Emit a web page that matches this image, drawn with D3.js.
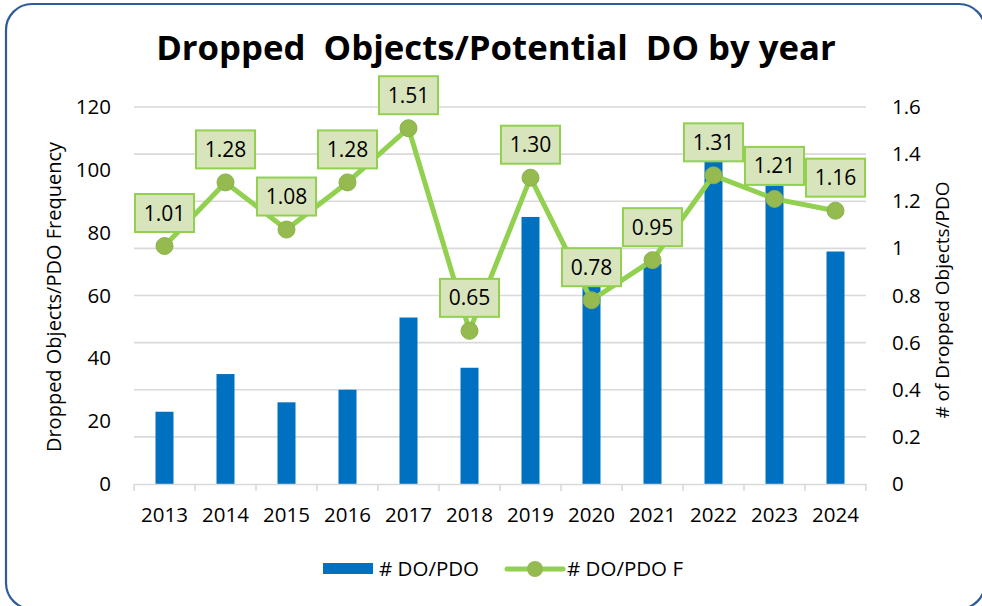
<!DOCTYPE html>
<html>
<head>
<meta charset="utf-8">
<script src="https://cdn.jsdelivr.net/npm/d3@7"></script>
<style>
  html, body { margin: 0; padding: 0; background: #fff; }
  svg { display: block; font-family: "Open Sans", sans-serif; }
</style>
</head>
<body>
<svg id="mysvg" width="982" height="606"></svg>
<script>
// chart data
const years = ["2013", "2014", "2015", "2016", "2017", "2018", "2019", "2020", "2021", "2022", "2023", "2024"];
const doCount = [23, 35, 26, 30, 53, 37, 85, 63, 70, 104, 95, 74];
const doRate = [1.01, 1.28, 1.08, 1.28, 1.51, 0.65, 1.30, 0.78, 0.95, 1.31, 1.21, 1.16];
const leftTicks = [0, 20, 40, 60, 80, 100, 120];
const rightTicks = [0, 0.2, 0.4, 0.6, 0.8, 1, 1.2, 1.4, 1.6];

const svg = d3.select("#mysvg");
const blue = "#0070C0", green = "#92D050", grid = "#D9D9D9";

// rounded card (runs a little past the right and bottom edges)
svg.append("rect")
  .attr("x", 6).attr("y", 4).attr("width", 979).attr("height", 605)
  .attr("rx", 26).attr("fill", "#fff")
  .attr("stroke", "#2E5C9A").attr("stroke-width", 2.2);

const plot = { left: 134, right: 866, top: 107, bottom: 484 };

const x = d3.scaleBand().domain(years).range([plot.left, plot.right]).padding(0);
const yL = d3.scaleLinear().domain([0, 120]).range([plot.bottom, plot.top]);
const yR = d3.scaleLinear().domain([0, 1.6]).range([plot.bottom, plot.top]);

// gridlines follow the right axis
svg.append("g").selectAll("line")
  .data(rightTicks.slice(1))
  .enter().append("line")
  .attr("x1", plot.left).attr("x2", plot.right)
  .attr("y1", d => yR(d)).attr("y2", d => yR(d))
  .attr("stroke", grid).attr("stroke-width", 1.6);

// title
const title = svg.append("text")
  .attr("x", 496).attr("y", 60)
  .attr("text-anchor", "middle")
  .style("font-weight", "bold").style("font-size", "35px")
  .attr("fill", "#000")
  .attr("xml:space", "preserve")
  .text("Dropped  Objects/Potential  DO by year");
// squeeze to the width it has in the picture
const tl = title.node().getComputedTextLength();
if (tl > 680) title.style("font-size", (35 * 680 / tl) + "px");

// bars
svg.append("g").selectAll("rect")
  .data(doCount)
  .enter().append("rect")
  .attr("x", (d, i) => x(years[i]) + x.bandwidth() / 2 - 9)
  .attr("width", 18)
  .attr("y", d => yL(d))
  .attr("height", d => yL(0) - yL(d))
  .attr("fill", blue);

// x axis
const xAxis = svg.append("g").attr("transform", `translate(0,${plot.bottom})`)
  .call(d3.axisBottom(x).tickSize(0).tickPadding(23));
xAxis.select(".domain").attr("stroke", grid).attr("stroke-width", 1.6);
xAxis.selectAll("text").style("font-size", "20.5px").attr("fill", "#000")
  .attr("font-family", "Open Sans");
// boundary ticks
svg.append("g").selectAll("line")
  .data(d3.range(years.length + 1))
  .enter().append("line")
  .attr("x1", i => plot.left + i * x.step()).attr("x2", i => plot.left + i * x.step())
  .attr("y1", plot.bottom).attr("y2", plot.bottom + 7)
  .attr("stroke", grid).attr("stroke-width", 1.6);

// left axis
const leftAxis = svg.append("g").attr("transform", `translate(${plot.left},0)`)
  .call(d3.axisLeft(yL).tickValues(leftTicks).tickSize(0).tickPadding(23));
leftAxis.select(".domain").remove();
leftAxis.selectAll("text").style("font-size", "20.5px").attr("fill", "#000")
  .attr("font-family", "Open Sans");

// right axis
const rightAxis = svg.append("g").attr("transform", `translate(${plot.right},0)`)
  .call(d3.axisRight(yR).tickValues(rightTicks).tickFormat(d3.format("~g")).tickSize(0).tickPadding(26));
rightAxis.select(".domain").remove();
rightAxis.selectAll("text").style("font-size", "20.5px").attr("fill", "#000")
  .attr("font-family", "Open Sans");

// axis titles
svg.append("text")
  .attr("transform", "translate(61,297) rotate(-90)")
  .attr("text-anchor", "middle")
  .style("font-size", "20px").attr("fill", "#000")
  .text("Dropped Objects/PDO Frequency");
svg.append("text")
  .attr("transform", "translate(949,300) rotate(-90)")
  .attr("text-anchor", "middle")
  .style("font-size", "19px").attr("fill", "#000")
  .text("# of Dropped Objects/PDO");

// line + markers
const cx = i => x(years[i]) + x.bandwidth() / 2;
const line = d3.line().x((d, i) => cx(i)).y(d => yR(d));
svg.append("path")
  .datum(doRate)
  .attr("d", line)
  .attr("fill", "none")
  .attr("stroke", green).attr("stroke-width", 5)
  .attr("stroke-linejoin", "round");

svg.append("g").selectAll("circle")
  .data(doRate)
  .enter().append("circle")
  .attr("cx", (d, i) => cx(i)).attr("cy", d => yR(d))
  .attr("r", 8.5)
  .attr("fill", "#95BA50").attr("stroke", "#8AB24A").attr("stroke-width", 1);

// data labels in boxes above each point
const lab = svg.append("g").selectAll("g")
  .data(doRate)
  .enter().append("g")
  .attr("transform", (d, i) => `translate(${cx(i)},${yR(d) - 14})`);
lab.append("rect")
  .attr("x", -29.5).attr("y", -38).attr("width", 59).attr("height", 38)
  .attr("fill", "#D8E4BC").attr("stroke", green).attr("stroke-width", 2);
lab.append("text")
  .attr("y", -11.5)
  .attr("text-anchor", "middle")
  .style("font-size", "21px").attr("fill", "#000")
  .text(d => d3.format(".2f")(d));

// legend
const legend = svg.append("g");
legend.append("rect")
  .attr("x", 323).attr("y", 563).attr("width", 50).attr("height", 11)
  .attr("fill", blue);
legend.append("text")
  .attr("x", 379).attr("y", 576)
  .style("font-size", "20.5px").attr("fill", "#000")
  .text("# DO/PDO");
legend.append("line")
  .attr("x1", 507).attr("x2", 563).attr("y1", 569).attr("y2", 569)
  .attr("stroke", green).attr("stroke-width", 5).attr("stroke-linecap", "round");
legend.append("circle")
  .attr("cx", 535).attr("cy", 569).attr("r", 8)
  .attr("fill", "#95BA50");
legend.append("text")
  .attr("x", 567).attr("y", 576)
  .style("font-size", "20.5px").attr("fill", "#000")
  .text("# DO/PDO F");
</script>
</body>
</html>
